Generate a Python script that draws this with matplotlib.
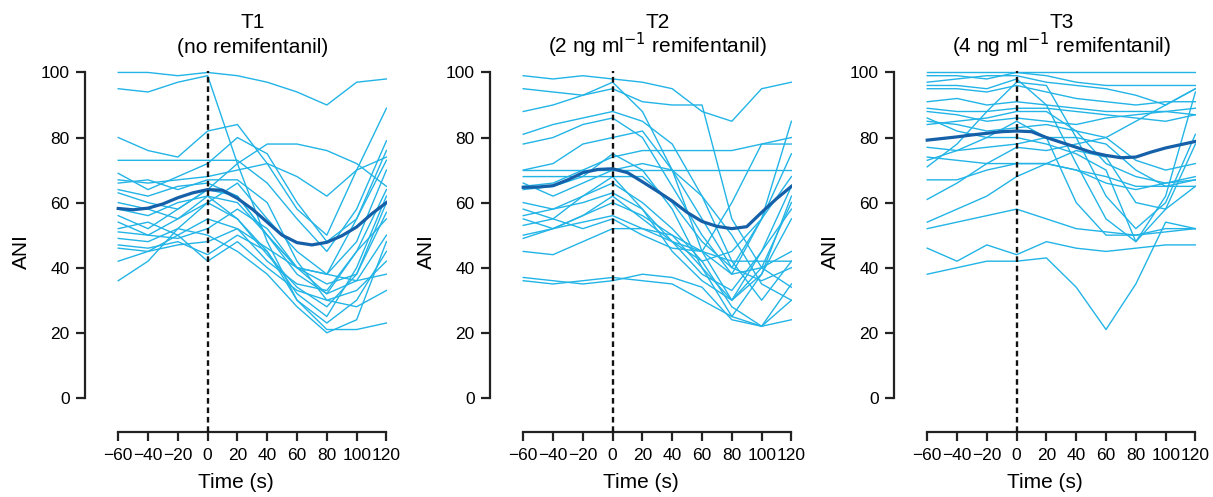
import numpy as np
import matplotlib
matplotlib.use("Agg")
from matplotlib import pyplot as plt

plt.rcParams['font.family'] = ['Liberation Sans', 'DejaVu Sans']

# サンプリング時刻（個別曲線）
t_ind = [-60, -40, -20, 0, 20, 40, 60, 80, 100, 120]
# 平均曲線の時刻
t_mean = [-60, -50, -40, -30, -20, -10, 0, 10, 20, 30, 40, 50, 60, 70, 80, 90, 100, 110, 120]

# T1 個別患者のANI
t1_lines = [
    [100, 100, 99, 100, 99, 97, 94, 90, 97, 98],
    [95, 94, 97, 99, 72, 48, 30, 21, 21, 23],
    [80, 76, 74, 82, 84, 72, 58, 50, 70, 89],
    [73, 73, 73, 73, 73, 66, 55, 45, 58, 79],
    [69, 64, 68, 72, 80, 75, 60, 48, 55, 76],
    [67, 66, 67, 68, 70, 72, 68, 62, 70, 74],
    [66, 67, 64, 67, 67, 60, 42, 30, 28, 33],
    [64, 62, 65, 66, 62, 50, 40, 38, 55, 73],
    [63, 60, 58, 64, 72, 78, 78, 76, 72, 65],
    [60, 58, 55, 62, 60, 50, 38, 32, 45, 64],
    [58, 56, 60, 62, 55, 45, 32, 25, 40, 62],
    [56, 52, 58, 64, 62, 50, 40, 35, 38, 60],
    [54, 50, 55, 60, 55, 44, 34, 28, 38, 57],
    [52, 54, 50, 55, 52, 42, 35, 33, 45, 55],
    [51, 50, 49, 52, 58, 52, 40, 32, 36, 50],
    [49, 48, 52, 50, 45, 38, 28, 20, 24, 48],
    [47, 46, 48, 44, 50, 45, 30, 23, 30, 45],
    [46, 45, 50, 42, 48, 40, 33, 30, 33, 42],
    [42, 45, 47, 48, 52, 46, 40, 38, 36, 38],
    [36, 42, 52, 60, 66, 55, 45, 38, 48, 70],
]
t1_mean = [58.2, 57.8, 58.3, 59.6, 61.5, 63, 64, 63.8, 61.3, 58, 54, 50, 47.7, 47, 47.8, 49.8, 52.5, 56.5, 60]

# T2
t2_lines = [
    [99, 98, 99, 98, 97, 95, 88, 85, 95, 97],
    [95, 94, 93, 95, 91, 90, 90, 55, 40, 45],
    [88, 90, 93, 97, 88, 70, 45, 30, 40, 60],
    [81, 84, 86, 88, 85, 78, 62, 42, 30, 42],
    [78, 80, 84, 86, 80, 65, 50, 38, 55, 85],
    [70, 72, 78, 80, 82, 70, 55, 40, 36, 40],
    [70, 70, 70, 70, 70, 70, 70, 70, 70, 70],
    [68, 68, 68, 68, 68, 60, 48, 40, 55, 75],
    [66, 62, 66, 70, 72, 70, 62, 50, 35, 30],
    [65, 66, 70, 74, 76, 76, 76, 76, 78, 78],
    [64, 65, 68, 75, 70, 58, 40, 25, 22, 35],
    [60, 58, 62, 66, 60, 52, 42, 28, 22, 24],
    [58, 55, 62, 68, 58, 45, 36, 30, 38, 55],
    [56, 58, 60, 63, 58, 48, 38, 33, 45, 65],
    [55, 52, 56, 62, 55, 48, 42, 45, 55, 68],
    [53, 55, 52, 55, 50, 46, 45, 60, 78, 80],
    [50, 52, 54, 56, 52, 48, 45, 42, 42, 42],
    [49, 52, 56, 60, 56, 50, 45, 38, 40, 34],
    [45, 44, 48, 52, 52, 50, 40, 30, 45, 58],
    [37, 36, 35, 36, 38, 37, 34, 24, 22, 30],
    [36, 35, 36, 37, 36, 35, 30, 25, 38, 62],
]
t2_mean = [64.7, 64.8, 65.2, 67, 69.2, 70.2, 70.4, 69.2, 66.4, 63.5, 60.5, 57, 54.2, 52.7, 52, 52.6, 57, 61.2, 65]

# T3
t3_lines = [
    [100, 100, 100, 100, 100, 100, 100, 100, 100, 100],
    [99, 99, 98, 100, 99, 97, 96, 96, 96, 96],
    [97, 98, 99, 99, 97, 96, 95, 93, 90, 95],
    [96, 96, 95, 98, 90, 72, 55, 48, 62, 94],
    [95, 95, 94, 96, 94, 92, 91, 90, 91, 91],
    [91, 92, 90, 91, 90, 89, 88, 88, 88, 89],
    [89, 88, 88, 89, 89, 88, 87, 86, 85, 87],
    [88, 87, 85, 86, 85, 84, 86, 87, 88, 87],
    [85, 84, 82, 83, 84, 82, 80, 73, 70, 72],
    [84, 85, 86, 88, 88, 82, 72, 68, 66, 67],
    [77, 76, 77, 78, 80, 80, 78, 70, 65, 65],
    [74, 73, 72, 72, 72, 70, 68, 65, 65, 67],
    [73, 76, 80, 85, 80, 60, 50, 50, 51, 52],
    [71, 78, 88, 97, 96, 80, 62, 52, 60, 81],
    [67, 67, 70, 72, 72, 70, 66, 64, 66, 68],
    [61, 66, 72, 77, 76, 78, 80, 85, 90, 95],
    [54, 58, 62, 68, 72, 76, 74, 60, 58, 65],
    [52, 54, 56, 58, 55, 52, 51, 50, 52, 52],
    [46, 42, 47, 44, 48, 46, 45, 46, 47, 47],
    [38, 40, 42, 42, 43, 34, 21, 35, 54, 52],
    [86, 82, 80, 80, 78, 75, 70, 48, 58, 78],
]
t3_mean = [79.2, 79.7, 80.2, 80.8, 81.3, 81.8, 82, 81.8, 80, 78.5, 77, 75.5, 74.5, 73.8, 74, 75.5, 76.8, 77.8, 78.8]

titles_top = ['T1', 'T2', 'T3']
titles_sub = ['(no remifentanil)',
              '(2 ng ml$^{\u22121}$ remifentanil)',
              '(4 ng ml$^{\u22121}$ remifentanil)']
panels = [(t1_lines, t1_mean), (t2_lines, t2_mean), (t3_lines, t3_mean)]

light = '#22b4e6'
dark = '#1560a8'

W, H = 1213, 497
fig = plt.figure(figsize=(W / 100, H / 100), dpi=100)

lefts = [85, 490, 894]
x_lo, x_hi = -82.3, 120.5
y_lo, y_hi = -10.4, 100.6
ax_w = (x_hi - x_lo) * 1.49
ax_bottom = 431.7
ax_top = 70.5
ax_h = ax_bottom - ax_top

for i, (lines, mean) in enumerate(panels):
    ax = fig.add_axes([lefts[i] / W, (H - ax_bottom) / H, ax_w / W, ax_h / H])
    for ln in lines:
        ax.plot(t_ind, ln, color=light, lw=1.0, zorder=2)
    ax.plot(t_mean, mean, color=dark, lw=2.3, zorder=3)
    ax.vlines(0, y_lo, 100.5, colors='#111111', linestyles=(0, (2.4, 1.6)), lw=1.7, zorder=4)

    ax.set_xlim(x_lo, x_hi)
    ax.set_ylim(y_lo, y_hi)
    ax.set_xticks(range(-60, 121, 20))
    ax.set_xticklabels(['\u221260', '\u221240', '\u221220', '0', '20', '40', '60', '80', '100', '120'])
    ax.set_yticks(range(0, 101, 20))
    for s in ['top', 'right']:
        ax.spines[s].set_visible(False)
    ax.spines['left'].set_bounds(0, 100)
    ax.spines['bottom'].set_bounds(-60, 120)
    for s in ['left', 'bottom']:
        ax.spines[s].set_linewidth(1.6)
        ax.spines[s].set_color('#222222')
    ax.tick_params(direction='out', length=6.5, width=1.6, labelsize=12.5, color='#222222')
    ax.tick_params(axis='x', pad=5.5)
    ax.tick_params(axis='y', pad=4.5)
    ax.set_xlabel('Time (s)', fontsize=15, labelpad=7)
    ax.set_ylabel('ANI', fontsize=15, labelpad=7)
    trans = ax.get_xaxis_transform()
    ax.text(30, 1 + (ax_top - 28) / ax_h, titles_top[i], transform=trans,
            ha='center', va='baseline', fontsize=15)
    ax.text(30, 1 + (ax_top - 53) / ax_h, titles_sub[i], transform=trans,
            ha='center', va='baseline', fontsize=15)

fig.savefig('out.png', dpi=100)
